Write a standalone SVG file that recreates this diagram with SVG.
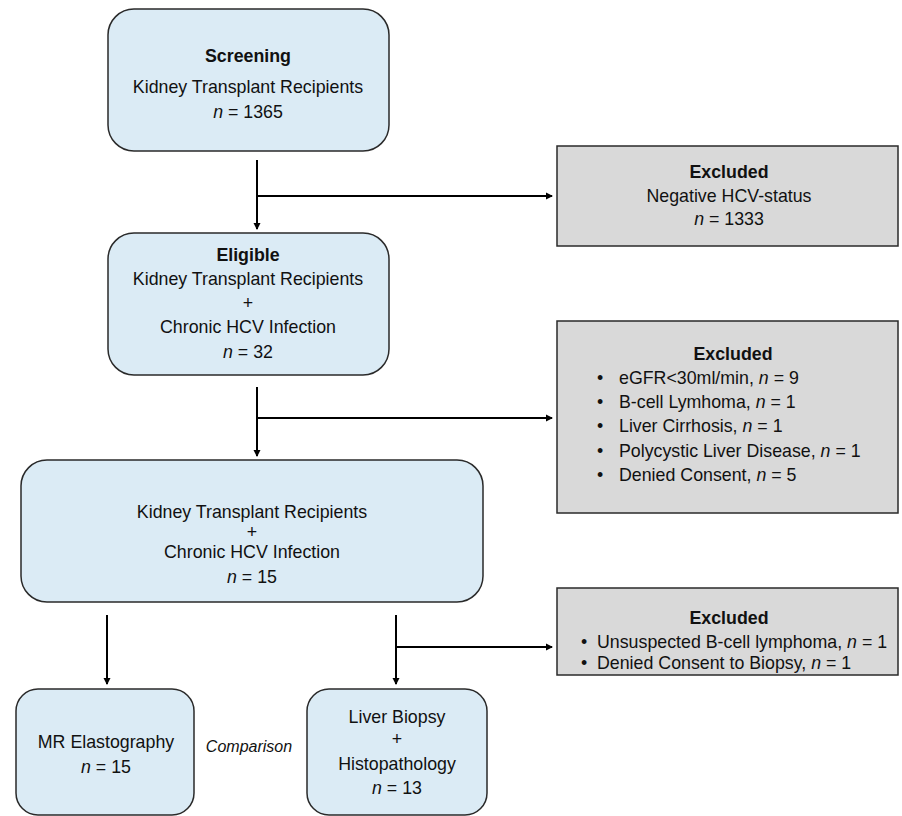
<svg xmlns="http://www.w3.org/2000/svg" width="902" height="816" viewBox="0 0 902 816">
<style>
text{font-family:"Liberation Sans",Arial,sans-serif;font-size:17.8px;fill:#111}
.c{text-anchor:middle}
.b{font-weight:bold}
.i{font-style:italic}
.blue{fill:#DBEBF5;stroke:#2a2a2a;stroke-width:1.5}
.gray{fill:#D9D9D9;stroke:#2a2a2a;stroke-width:1.5}
.ln{stroke:#000;stroke-width:2;fill:none}
</style>
<defs>
<marker id="ah" markerWidth="8" markerHeight="8" refX="6" refY="4" orient="auto" markerUnits="userSpaceOnUse">
<path d="M0,0.5 L7,4 L0,7.5 Z" fill="#000"/>
</marker>
</defs>
<g id="connectors">
<path class="ln" d="M257,160 V229" marker-end="url(#ah)"/>
<path class="ln" d="M257,196 H552" marker-end="url(#ah)"/>
<path class="ln" d="M257,387 V456" marker-end="url(#ah)"/>
<path class="ln" d="M257,418 H552" marker-end="url(#ah)"/>
<path class="ln" d="M107,615 V684" marker-end="url(#ah)"/>
<path class="ln" d="M396,615 V684" marker-end="url(#ah)"/>
<path class="ln" d="M396,647 H552" marker-end="url(#ah)"/>
</g>
<g id="screening">
<rect class="blue" x="108" y="9" width="281" height="142" rx="26"/>
<text class="c b" x="248" y="62">Screening</text>
<text class="c" x="248" y="93">Kidney Transplant Recipients</text>
<text class="c" x="248" y="118"><tspan class="i">n</tspan> = 1365</text>
</g>
<g id="excluded1">
<rect class="gray" x="557" y="146" width="341" height="100"/>
<text class="c b" x="729" y="178">Excluded</text>
<text class="c" x="729" y="202">Negative HCV-status</text>
<text class="c" x="729" y="225"><tspan class="i">n</tspan> = 1333</text>
</g>
<g id="eligible">
<rect class="blue" x="108" y="233" width="281" height="142" rx="26"/>
<text class="c b" x="248" y="261">Eligible</text>
<text class="c" x="248" y="285">Kidney Transplant Recipients</text>
<text class="c" x="248" y="309">+</text>
<text class="c" x="248" y="333">Chronic HCV Infection</text>
<text class="c" x="248" y="358"><tspan class="i">n</tspan> = 32</text>
</g>
<g id="excluded2">
<rect class="gray" x="557" y="321" width="341" height="192"/>
<text class="c b" x="733" y="360">Excluded</text>
<text x="597" y="384">•</text><text x="619" y="384">eGFR&lt;30ml/min, <tspan class="i">n</tspan> = 9</text>
<text x="597" y="408">•</text><text x="619" y="408">B-cell Lymhoma, <tspan class="i">n</tspan> = 1</text>
<text x="597" y="432">•</text><text x="619" y="432">Liver Cirrhosis, <tspan class="i">n</tspan> = 1</text>
<text x="597" y="457">•</text><text x="619" y="457">Polycystic Liver Disease, <tspan class="i">n</tspan> = 1</text>
<text x="597" y="481">•</text><text x="619" y="481">Denied Consent, <tspan class="i">n</tspan> = 5</text>
</g>
<g id="included">
<rect class="blue" x="21" y="460" width="462" height="142" rx="26"/>
<text class="c" x="252" y="518">Kidney Transplant Recipients</text>
<text class="c" x="252" y="538">+</text>
<text class="c" x="252" y="558">Chronic HCV Infection</text>
<text class="c" x="252" y="583"><tspan class="i">n</tspan> = 15</text>
</g>
<g id="excluded3">
<rect class="gray" x="557" y="588" width="341" height="87"/>
<text class="c b" x="729" y="624">Excluded</text>
<text x="581" y="648">•</text><text x="597" y="648">Unsuspected B-cell lymphoma, <tspan class="i">n</tspan> = 1</text>
<text x="581" y="669">•</text><text x="597" y="669">Denied Consent to Biopsy, <tspan class="i">n</tspan> = 1</text>
</g>
<g id="mre">
<rect class="blue" x="16" y="689" width="178" height="126" rx="22"/>
<text class="c" x="106" y="748">MR Elastography</text>
<text class="c" x="106" y="773"><tspan class="i">n</tspan> = 15</text>
</g>
<g id="comparison">
<text class="c i" x="249" y="752" style="font-size:16px">Comparison</text>
</g>
<g id="biopsy">
<rect class="blue" x="307" y="689" width="180" height="126" rx="22"/>
<text class="c" x="397" y="723">Liver Biopsy</text>
<text class="c" x="397" y="745">+</text>
<text class="c" x="397" y="770">Histopathology</text>
<text class="c" x="397" y="794"><tspan class="i">n</tspan> = 13</text>
</g>
</svg>
